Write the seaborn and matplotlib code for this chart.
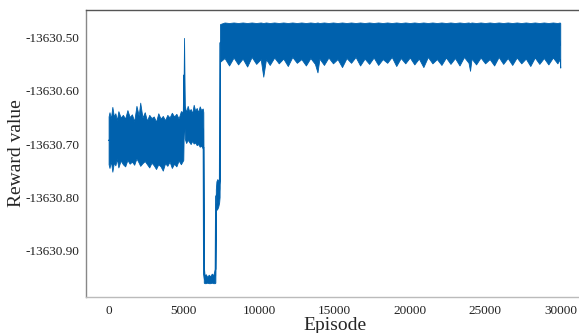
import numpy as np
import pandas as pd
import matplotlib
matplotlib.use("Agg")
import matplotlib.pyplot as plt
import seaborn as sns

# reward offsets are relative to this base value
base = -13630.0

# envelope of the noisy reward trace (upper / lower edge)
ep1 = [0, 60, 150, 250, 350, 450, 550, 650, 800, 950, 1100, 1250, 1400, 1550, 1700,
       1850, 2000, 2100, 2250, 2400, 2550, 2700, 2850, 3000, 3150, 3300, 3450, 3600,
       3750, 3900, 4050, 4200, 4350, 4500, 4650, 4800, 4960]
upper1 = [-0.648, -0.640, -0.652, -0.630, -0.648, -0.642, -0.655, -0.638, -0.650, -0.645,
          -0.652, -0.636, -0.649, -0.644, -0.657, -0.628, -0.646, -0.622, -0.650, -0.640,
          -0.656, -0.645, -0.651, -0.648, -0.658, -0.642, -0.652, -0.647, -0.655, -0.645,
          -0.650, -0.641, -0.648, -0.643, -0.652, -0.638, -0.640]
lower1 = [-0.738, -0.745, -0.732, -0.752, -0.735, -0.740, -0.728, -0.744, -0.731, -0.738,
          -0.742, -0.730, -0.737, -0.733, -0.739, -0.727, -0.735, -0.741, -0.736, -0.732,
          -0.738, -0.744, -0.735, -0.740, -0.747, -0.738, -0.742, -0.750, -0.736, -0.741,
          -0.733, -0.745, -0.737, -0.742, -0.731, -0.738, -0.730]

# spike around episode 5000
ep_spike = [5010, 5060]
upper_spike = [-0.500, -0.628]
lower_spike = [-0.640, -0.690]

ep2 = [5150, 5250, 5350, 5450, 5550, 5650, 5750, 5850, 5950, 6050, 6150, 6250, 6290]
upper2 = [-0.640, -0.628, -0.638, -0.634, -0.642, -0.626, -0.637, -0.632, -0.640, -0.629,
          -0.636, -0.633, -0.640]
lower2 = [-0.698, -0.692, -0.696, -0.700, -0.694, -0.699, -0.697, -0.702, -0.700, -0.705,
          -0.703, -0.708, -0.705]

ep3 = [6320, 6380, 6450, 6550, 6650, 6750, 6850, 6950, 7050, 7090]
upper3 = [-0.930, -0.948, -0.945, -0.950, -0.946, -0.949, -0.944, -0.947, -0.936, -0.935]
lower3 = [-0.961, -0.962, -0.962, -0.961, -0.962, -0.962, -0.961, -0.962, -0.962, -0.961]

ep4 = [7120, 7160, 7220, 7280, 7340, 7370]
upper4 = [-0.785, -0.770, -0.766, -0.768, -0.775, -0.768]
lower4 = [-0.812, -0.824, -0.822, -0.818, -0.810, -0.800]

ep5 = [7400, 7700, 8000, 8300, 8600, 8900, 9200, 9500, 9800, 10100,
       10270, 10450, 10700, 11000, 11300, 11600, 11900, 12200, 12500, 12800,
       13100, 13400, 13700, 13870, 14000, 14300, 14600, 14900, 15200, 15500,
       15800, 16100, 16400, 16700, 17000, 17300, 17600, 17900, 18200, 18500,
       18800, 19100, 19400, 19700, 20000, 20300, 20600, 20900, 21200, 21500,
       21800, 22100, 22400, 22700, 23000, 23300, 23600, 23900, 24000, 24100,
       24400, 24700, 25000, 25300, 25600, 25900, 26200, 26500, 26800, 27100,
       27400, 27700, 28000, 28300, 28600, 28900, 29200, 29500, 29800, 29950,
       29990]
upper5 = [-0.474, -0.471, -0.472, -0.471, -0.472, -0.471, -0.472, -0.471, -0.472, -0.471,
          -0.472, -0.471, -0.472, -0.471, -0.472, -0.471, -0.472, -0.471, -0.472, -0.471,
          -0.472, -0.471, -0.472, -0.471, -0.472, -0.471, -0.472, -0.471, -0.472, -0.471,
          -0.472, -0.471, -0.472, -0.471, -0.472, -0.471, -0.472, -0.471, -0.472, -0.471,
          -0.472, -0.471, -0.472, -0.471, -0.472, -0.471, -0.472, -0.471, -0.472, -0.471,
          -0.472, -0.471, -0.472, -0.471, -0.472, -0.471, -0.472, -0.471, -0.472, -0.471,
          -0.472, -0.471, -0.472, -0.471, -0.472, -0.471, -0.472, -0.471, -0.472, -0.471,
          -0.472, -0.471, -0.472, -0.471, -0.472, -0.471, -0.472, -0.471, -0.472, -0.471,
          -0.472]
lower5 = [-0.545, -0.538, -0.552, -0.537, -0.550, -0.539, -0.554, -0.536, -0.549, -0.540,
          -0.573, -0.540, -0.551, -0.537, -0.548, -0.539, -0.553, -0.536, -0.547, -0.540,
          -0.552, -0.538, -0.549, -0.565, -0.539, -0.551, -0.537, -0.548, -0.540, -0.555,
          -0.538, -0.547, -0.536, -0.552, -0.539, -0.549, -0.537, -0.551, -0.540, -0.547,
          -0.536, -0.553, -0.538, -0.548, -0.537, -0.550, -0.539, -0.555, -0.536, -0.548,
          -0.540, -0.551, -0.537, -0.549, -0.538, -0.552, -0.536, -0.547, -0.562, -0.539,
          -0.550, -0.537, -0.548, -0.540, -0.552, -0.536, -0.549, -0.538, -0.551, -0.537,
          -0.548, -0.539, -0.553, -0.537, -0.549, -0.538, -0.550, -0.537, -0.548, -0.540,
          -0.556]

episodes = ep1 + ep_spike + ep2 + ep3 + ep4 + ep5
upper = upper1 + upper_spike + upper2 + upper3 + upper4 + upper5
lower = lower1 + lower_spike + lower2 + lower3 + lower4 + lower5

df = pd.DataFrame({
    "Episode": episodes + episodes,
    "Reward": [base + v for v in upper] + [base + v for v in lower],
})

sns.set_style("white")
plt.rcParams["font.family"] = ["Liberation Serif", "DejaVu Serif"]

color = "#0061ad"
fig = plt.figure(figsize=(5.79, 3.33), dpi=100)
ax = fig.add_axes([86 / 579, 36 / 333, 497 / 579, 287 / 333])

# band between min and max of the envelope = the dense noisy trace
sns.lineplot(data=df, x="Episode", y="Reward", estimator="mean", errorbar=("pi", 100),
             color=color, linewidth=1.0, err_kws={"alpha": 1.0, "linewidth": 0.6,
                                                  "edgecolor": color}, ax=ax)

ax.set_xlim(-1500, 31500)
ax.set_ylim(base - 0.988, base - 0.4475)
ax.set_xticks([0, 5000, 10000, 15000, 20000, 25000, 30000])
ax.set_yticks([base - 0.5, base - 0.6, base - 0.7, base - 0.8, base - 0.9])
ax.set_yticklabels(["%.2f" % v for v in ax.get_yticks()])
ax.tick_params(axis="both", labelsize=9.5, colors="#222222")
ax.tick_params(axis="x", length=3, width=0.6, color="#bbbbbb", pad=3)
ax.tick_params(axis="y", length=0, pad=5)

ax.set_xlabel("Episode", fontsize=14, labelpad=0)
ax.set_ylabel("Reward value", fontsize=14, labelpad=0)

ax.spines["top"].set_color("#555555")
ax.spines["left"].set_color("#888888")
ax.spines["bottom"].set_color("#bbbbbb")
ax.spines["right"].set_visible(False)
for s in ["top", "left", "bottom"]:
    ax.spines[s].set_linewidth(1.0)

fig.savefig("out.png", dpi=100)
